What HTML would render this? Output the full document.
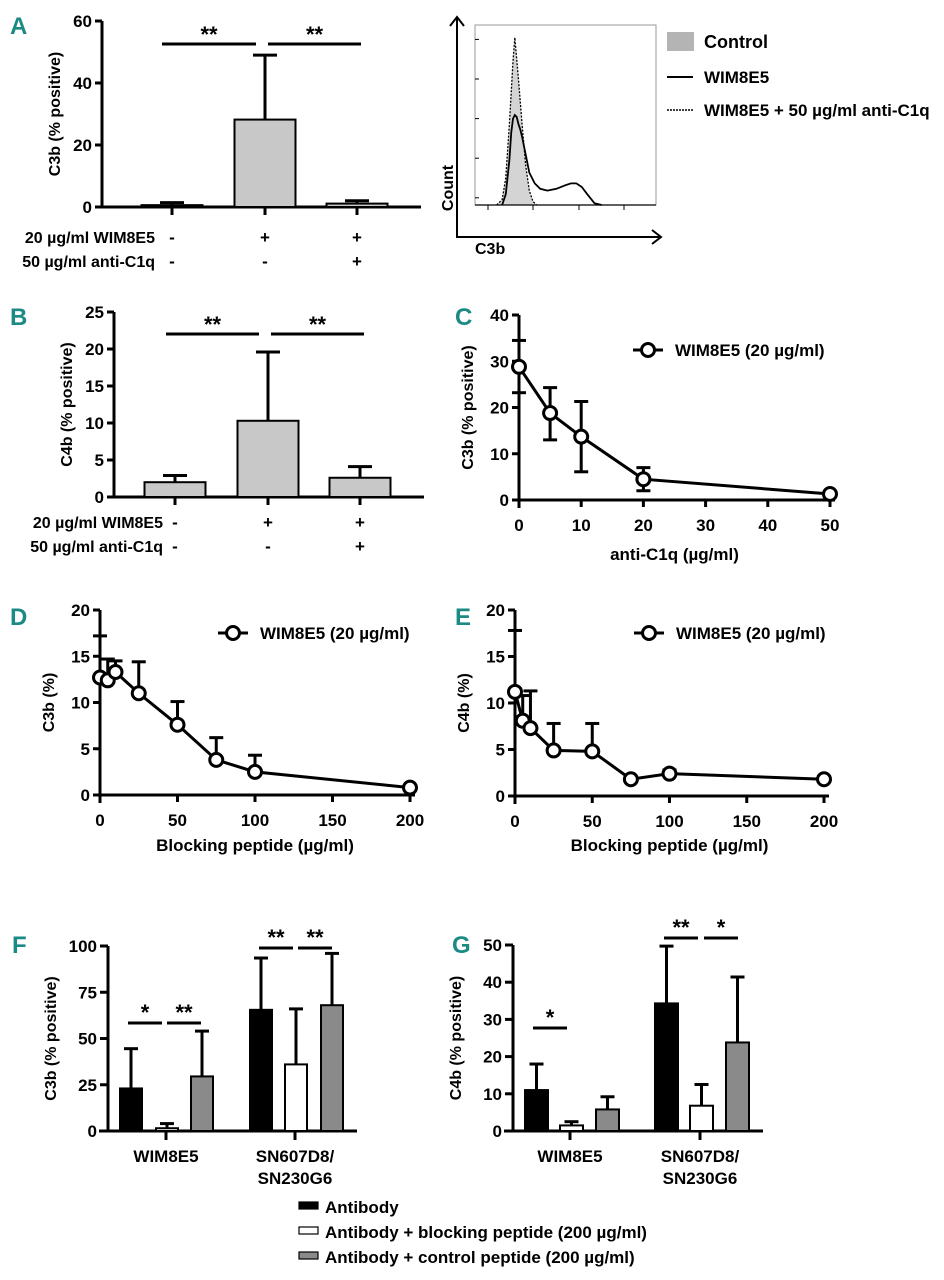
<!DOCTYPE html>
<html><head><meta charset="utf-8"><style>
html,body{margin:0;padding:0;background:#fff}
svg{display:block;font-family:"Liberation Sans",Arial,sans-serif;font-weight:bold}
.pl{font-family:"Liberation Sans Narrow","Liberation Sans",sans-serif;fill:#1b8a85;font-size:24px;font-weight:bold}
</style></head><body>
<svg id="fig" width="944" height="1280" viewBox="0 0 944 1280" xmlns="http://www.w3.org/2000/svg">
<text class="pl" x="10" y="34">A</text>
<text class="pl" x="10" y="325">B</text>
<text class="pl" x="455" y="325">C</text>
<text class="pl" x="10" y="625">D</text>
<text class="pl" x="455" y="625">E</text>
<text class="pl" x="12" y="953">F</text>
<text class="pl" x="452" y="953">G</text>
</svg>
<script>
// ---- data ----
const aValues=[0.6,28.2,1.1];
const aErrors=[1.4,49,2.0];
const aTicks=[0,20,40,60];
const bValues=[2.0,10.3,2.6];
const bErrors=[2.9,19.6,4.1];
const bTicks=[0,5,10,15,20,25];
const rowWim=["-","+","+"];
const rowC1q=["-","-","+"];
const cX=[0,5,10,20,50];
const cY=[28.8,18.8,13.7,4.5,1.3];
const cUp=[34.5,24.3,21.3,7.0,1.3];
const cLo=[23.2,13.0,6.1,2.0,1.3];
const cXTicks=[0,10,20,30,40,50];
const cYTicks=[0,10,20,30,40];
const dX=[0,5,10,25,50,75,100,200];
const dY=[12.7,12.4,13.3,11.0,7.6,3.8,2.5,0.8];
const dUp=[17.2,14.7,14.5,14.4,10.1,6.2,4.3,0.8];
const eY=[11.2,8.1,7.3,4.9,4.8,1.8,2.4,1.8];
const eUp=[17.8,10.8,11.3,7.8,7.8,1.8,2.8,2.1];
const deXTicks=[0,50,100,150,200];
const deYTicks=[0,5,10,15,20];
const groups=["WIM8E5","SN607D8/SN230G6"];
const fValues=[[23,1.5,29.5],[65.5,36,68]];
const fErrors=[[44.5,4,54],[93.5,66,96]];
const fTicks=[0,25,50,75,100];
const gValues=[[11,1.5,5.8],[34.3,6.8,23.8]];
const gErrors=[[18,2.5,9.2],[49.7,12.5,41.4]];
const gTicks=[0,10,20,30,40,50];
const histBins=[12,15,17,19,21,22,24,26,28,30,32,34];
const histControl=[0,3,15,45,80,93,70,45,22,8,2,0];
const histWimBins=[15,17,19,20,21,22,23,24,25,26,28,30,33,36,40,45,50,53,56,59,62,66,70];
const histWim=[0,6,25,40,48,50,49,45,42,38,28,18,12,9,8,9,11,12,12,10,6,1,0];

const svg=document.getElementById('fig');
const NS='http://www.w3.org/2000/svg';
const TK=17, TT=16;
function mk(tag,attrs,name,txt){const e=document.createElementNS(NS,tag);for(const k in attrs)e.setAttribute(k,attrs[k]);


if(txt!==undefined)e.textContent=txt;svg.appendChild(e);return e;}
function line(x1,y1,x2,y2,name,w){return mk('line',{x1,y1,x2,y2,stroke:'#000','stroke-width':w||3},name);}
function txt(x,y,s,name,size,anchor,extra){const a={x,y,'font-size':size||TK,'text-anchor':anchor||'middle'};if(extra)Object.assign(a,extra);return mk('text',a,name,s);}
function lin(d0,d1,p0,p1){return v=>p0+(v-d0)/(d1-d0)*(p1-p0);}

// ---- A & B bar charts ----
function barChart(p,vals,errs,ticks,ax,y0,yTop,xEnd,centers,bw,sig,ytitle,rowY,rowLabX){
  const ys=lin(0,ticks[ticks.length-1],y0,yTop);
  line(ax,y0+1,ax,yTop,p+'-y-axis');
  line(ax-7,y0,xEnd,y0,p+'-x-axis');
  ticks.forEach(t=>{line(ax-7,ys(t),ax,ys(t),p+'-y-tick');txt(ax-10,ys(t)+6,t,p+'-y-tick-label',TK,'end');});
  vals.forEach((v,i)=>{const c=centers[i];
    line(c,ys(v),c,ys(errs[i]),p+'-error-bar');line(c-12,ys(errs[i]),c+12,ys(errs[i]),p+'-error-cap');
    mk('rect',{x:c-bw/2,y:ys(v),width:bw,height:Math.max(0.5,y0-ys(v)),fill:'#c8c8c8',stroke:'#000','stroke-width':2},p+'-bar-'+(i+1));
    line(c,y0,c,y0+8,p+'-x-tick');
    txt(c,rowY[0],rowWim[i],p+'-row-wim8e5-value',TK);txt(c,rowY[1],rowC1q[i],p+'-row-anti-c1q-value',TK);
  });
  sig.forEach(s=>{line(s[0],s[2],s[1],s[2],p+'-significance-line');txt((s[0]+s[1])/2,s[2]-2,'**',p+'-significance-stars',22);});
  const t=txt(ax-42,(y0+yTop)/2,ytitle,p+'-y-axis-title',TT,'middle');t.setAttribute('transform',`rotate(-90 ${ax-42} ${(y0+yTop)/2})`);
  txt(rowLabX,rowY[0],'20 µg/ml WIM8E5',p+'-row-label-wim8e5',TT,'end');
  txt(rowLabX,rowY[1],'50 µg/ml anti-C1q',p+'-row-label-anti-c1q',TT,'end');
}
barChart('a',aValues,aErrors,aTicks,102,207,21,421,[172,265,357],61,[[162,256,44],[268,361,44]],'C3b (% positive)',[243,267],155);
barChart('b',bValues,bErrors,bTicks,114,497,312,424,[175,268,360],61,[[166,259,334],[271,364,334]],'C4b (% positive)',[528,552],163);

// ---- Histogram ----
(function(){
  const hx=lin(0,100,475,656),hy=lin(0,100,205,25);
  mk('rect',{x:475,y:25,width:181,height:180,fill:'none',stroke:'#999','stroke-width':1},'histogram-frame');
  let d='M'+hx(histBins[0])+','+hy(0);histBins.forEach((b,i)=>d+=' L'+hx(b)+','+hy(histControl[i]));
  mk('path',{d:d+' Z',fill:'#d4d4d4',stroke:'none'},'histogram-control-fill');
  mk('path',{d,fill:'none',stroke:'#000','stroke-width':1.3,'stroke-dasharray':'2 1.5'},'histogram-anti-c1q-line');
  let w='';histWimBins.forEach((b,i)=>w+=(i?' L':'M')+hx(b)+','+hy(histWim[i]));
  mk('path',{d:w,fill:'none',stroke:'#000','stroke-width':1.8},'histogram-wim8e5-line');
  line(475,205,656,205,'histogram-baseline',1.2);
  for(let i=0;i<5;i++){line(475,hy(i*22+4),479,hy(i*22+4),'histogram-y-tick',1);}
  [488,533,579,624].forEach(x=>line(x,205,x,210,'histogram-x-tick',1));
  line(457,238,457,18,'count-axis',2);mk('path',{d:'M450,26 L457,17 L464,26',fill:'none',stroke:'#000','stroke-width':2},'count-arrow');
  line(456,237,661,237,'c3b-axis',2);mk('path',{d:'M652,230 L661,237 L652,244',fill:'none',stroke:'#000','stroke-width':2},'c3b-arrow');
  const t=txt(453,188,'Count','histogram-y-title',TT);t.setAttribute('transform','rotate(-90 453 188)');
  txt(475,254,'C3b','histogram-x-title',TT,'start');
  mk('rect',{x:667,y:32,width:27,height:19,fill:'#b4b4b4'},'legend-control-swatch');
  txt(704,48,'Control','legend-control-label',18,'start');
  line(667,77,693,77,'legend-wim8e5-line',2);
  txt(704,83,'WIM8E5','legend-wim8e5-label',17,'start');
  line(667,110,693,110,'legend-anti-c1q-line',1.5).setAttribute('stroke-dasharray','2 1');
  txt(704,116,'WIM8E5 + 50 µg/ml anti-C1q','legend-anti-c1q-label',17,'start');
})();

// ---- XY charts ----
function xyChart(p,X,Y,up,lo,xd,yd,px,py,xticks,yticks,ytitle,xtitle,xtY,leg){
  const xs=lin(xd[0],xd[1],px[0],px[1]),ys=lin(yd[0],yd[1],py[0],py[1]);
  line(px[0],py[0]+8,px[0],py[1],p+'-y-axis');
  line(px[0]-7,py[0],px[1]+5,py[0],p+'-x-axis');
  yticks.forEach(t=>{line(px[0]-7,ys(t),px[0],ys(t),p+'-y-tick');txt(px[0]-10,ys(t)+6,t,p+'-y-tick-label',TK,'end');});
  xticks.forEach(t=>{line(xs(t),py[0],xs(t),py[0]+7,p+'-x-tick');txt(xs(t),py[0]+31,t,p+'-x-tick-label',TK);});
  X.forEach((x,i)=>{const c=xs(x);
    if(up[i]>Y[i]){line(c,ys(Y[i]),c,ys(up[i]),p+'-error-bar');line(c-7,ys(up[i]),c+7,ys(up[i]),p+'-error-cap');}
    if(lo&&lo[i]<Y[i]){line(c,ys(Y[i]),c,ys(lo[i]),p+'-error-bar');line(c-7,ys(lo[i]),c+7,ys(lo[i]),p+'-error-cap');}
  });
  mk('polyline',{points:X.map((x,i)=>xs(x)+','+ys(Y[i])).join(' '),fill:'none',stroke:'#000','stroke-width':3},p+'-series-line');
  X.forEach((x,i)=>mk('circle',{cx:xs(x),cy:ys(Y[i]),r:6.5,fill:'#fff',stroke:'#000','stroke-width':3},p+'-point'));
  const my=(py[0]+py[1])/2,tx=px[0]-46;
  const t=txt(tx,my,ytitle,p+'-y-axis-title',TT);t.setAttribute('transform',`rotate(-90 ${tx} ${my})`);
  txt((px[0]+px[1])/2,xtY,xtitle,p+'-x-axis-title',TK);
  line(leg[0],leg[1],leg[0]+30,leg[1],p+'-legend-line');
  mk('circle',{cx:leg[0]+15,cy:leg[1],r:6.5,fill:'#fff',stroke:'#000','stroke-width':3},p+'-legend-marker');
  txt(leg[0]+42,leg[1]+6,'WIM8E5 (20 µg/ml)',p+'-legend-label',TK,'start');
}
xyChart('c',cX,cY,cUp,cLo,[0,50],[0,40],[519,830],[500,315],cXTicks,cYTicks,'C3b (% positive)','anti-C1q (µg/ml)',560,[633,350]);
xyChart('d',dX,dY,dUp,null,[0,200],[0,20],[100,410],[795,610],deXTicks,deYTicks,'C3b (%)','Blocking peptide (µg/ml)',851,[218,633]);
xyChart('e',dX,eY,eUp,null,[0,200],[0,20],[515,824],[796,610],deXTicks,deYTicks,'C4b (%)','Blocking peptide (µg/ml)',851,[634,633]);

// ---- grouped bars F, G ----
const fills=['#000','#fff','#8a8a8a'];
function groupChart(p,vals,errs,ticks,ax,y0,yTop,xEnd,starts,bw,gcent,sig,ytitle){
  const ys=lin(0,ticks[ticks.length-1],y0,yTop);
  line(ax,y0+1,ax,yTop,p+'-y-axis');
  line(ax-9,y0,xEnd,y0,p+'-x-axis');
  ticks.forEach(t=>{line(ax-8,ys(t),ax,ys(t),p+'-y-tick');txt(ax-11,ys(t)+6,t,p+'-y-tick-label',TK,'end');});
  vals.forEach((g,gi)=>{g.forEach((v,i)=>{const x=starts[gi][i],c=x+bw/2;
    line(c,ys(v),c,ys(errs[gi][i]),p+'-error-bar');line(c-7,ys(errs[gi][i]),c+7,ys(errs[gi][i]),p+'-error-cap');
    mk('rect',{x,y:ys(v),width:bw,height:Math.max(0.5,y0-ys(v)),fill:fills[i],stroke:'#000','stroke-width':2},p+'-bar-'+(gi+1)+'-'+(i+1));
  });
    line(gcent[gi],y0,gcent[gi],y0+9,p+'-x-tick');
    const parts=groups[gi].split('/');
    parts.forEach((s,k)=>txt(gcent[gi],y0+31+k*22,s+(k<parts.length-1?'/':''),p+'-group-label',TK));
  });
  sig.forEach(s=>{line(s[0],s[2],s[1],s[2],p+'-significance-line');txt((s[0]+s[1])/2,s[2]-3,s[3],p+'-significance-stars',22);});
  const my=(y0+yTop)/2,tx=ax-52;const t=txt(tx,my,ytitle,p+'-y-axis-title',TT);t.setAttribute('transform',`rotate(-90 ${tx} ${my})`);
}
groupChart('f',fValues,fErrors,fTicks,108,1131,946,357,[[120,156,191],[250,285,321]],22,[166,295],
  [[128,162,1023,'*'],[167,201,1023,'**'],[259,293,948,'**'],[298,332,948,'**']],'C3b (% positive)');
groupChart('g',gValues,gErrors,gTicks,513,1131,945,763,[[525,560,596],[655,690,726]],23,[570,700],
  [[533,567,1028,'*'],[664,698,938,'**'],[704,738,938,'*']],'C4b (% positive)');

// ---- legend ----
['Antibody','Antibody + blocking peptide (200 µg/ml)','Antibody + control peptide (200 µg/ml)'].forEach((s,i)=>{
  const y=1202+i*25;
  mk('rect',{x:299,y,width:19,height:7,fill:fills[i],stroke:'#000','stroke-width':1.2},'legend-swatch-'+(i+1));
  txt(325,y+11,s,'legend-label-'+(i+1),TK,'start');
});
</script>
</body></html>
